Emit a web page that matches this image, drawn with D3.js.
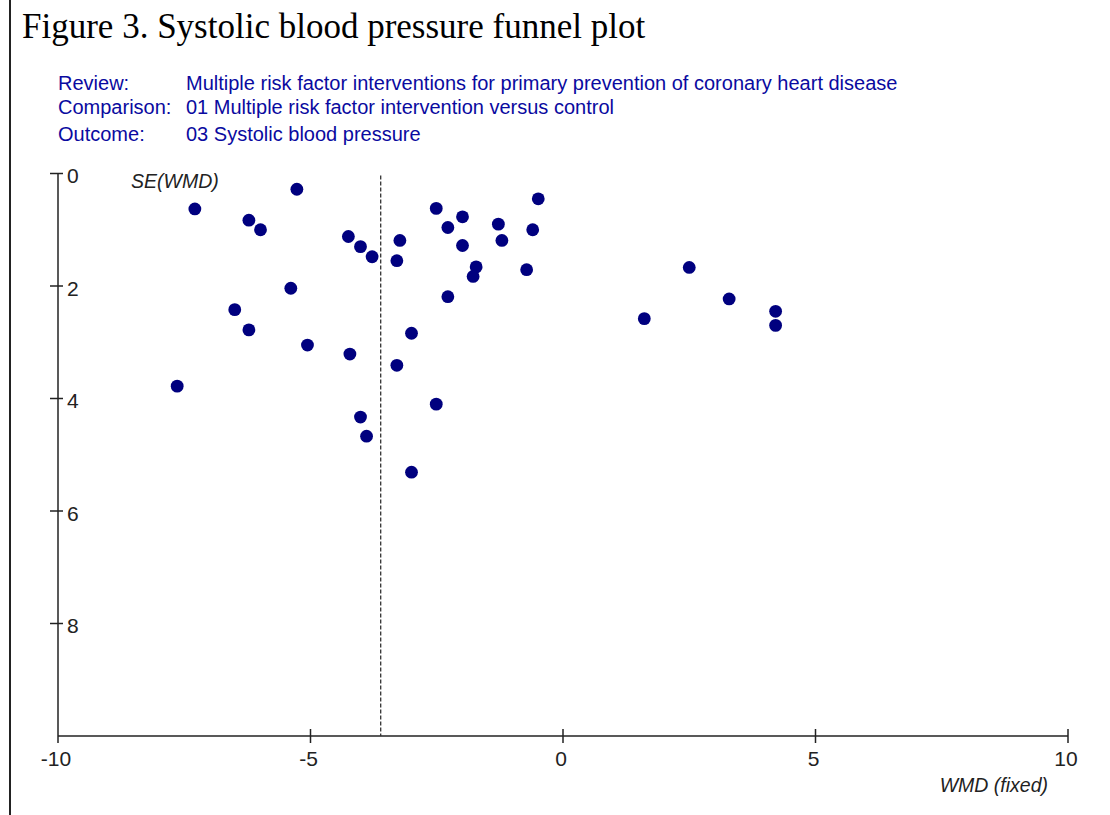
<!DOCTYPE html>
<html>
<head>
<meta charset="utf-8">
<script src="https://cdn.jsdelivr.net/npm/d3@7"></script>
<style>
  html, body { margin: 0; padding: 0; background: #fff; }
  svg { display: block; }
</style>
</head>
<body>
<svg id="chart" width="1110" height="815"></svg>
<script>
// Study effect estimates (weighted mean difference, mmHg) and their standard errors
const wmd = [
  -5.27, -7.29, -6.22, -5.99, -4.25, -4.01, -3.78, -3.23, -3.29, -2.51,
  -1.99, -2.28, -1.99, -1.28, -1.21, -0.49, -0.60, -0.72, -1.72, -1.78,
  -2.28, -5.39, -6.50, -6.22, -5.06, -4.22, -3.00, -3.29, -7.64, -4.01,
  -3.89, -2.51, -3.00, 2.50, 3.29, 1.61, 4.21, 4.21
];
const seWmd = [
  0.28, 0.63, 0.83, 1.00, 1.12, 1.30, 1.48, 1.19, 1.55, 0.62,
  0.77, 0.96, 1.28, 0.90, 1.19, 0.45, 1.00, 1.71, 1.66, 1.83,
  2.19, 2.04, 2.42, 2.78, 3.05, 3.21, 2.84, 3.41, 3.78, 4.33,
  4.67, 4.10, 5.31, 1.67, 2.23, 2.58, 2.45, 2.70
];
// Pooled fixed-effect estimate
const pooledWmd = [-3.61];

const xTicks = [-10, -5, 0, 5, 10];
const yTicks = [0, 2, 4, 6, 8];

const titleText = "Figure 3. Systolic blood pressure funnel plot";
const headerLabels = ["Review:", "Comparison:", "Outcome:"];
const headerValues = [
  "Multiple risk factor interventions for primary prevention of coronary heart disease",
  "01 Multiple risk factor intervention versus control",
  "03 Systolic blood pressure"
];

const svg = d3.select("#chart");
const sans = "'Liberation Sans', Arial, sans-serif";
const blue = "#0a0aa0";
const ink = "#222";

// Page border on the left
svg.append("line")
  .attr("x1", 10).attr("x2", 10).attr("y1", 0).attr("y2", 815)
  .attr("stroke", ink).attr("stroke-width", 2);

// Title
svg.append("text")
  .attr("x", 22).attr("y", 38)
  .attr("font-family", "'Liberation Serif', 'Times New Roman', serif")
  .attr("font-size", 35)
  .attr("fill", "#000")
  .text(titleText);

// Review header block
const headerY = [90, 114, 141];
headerLabels.forEach((lab, i) => {
  svg.append("text")
    .attr("x", 58).attr("y", headerY[i])
    .attr("font-family", sans).attr("font-size", 20)
    .attr("fill", blue).text(lab);
  svg.append("text")
    .attr("x", 186).attr("y", headerY[i])
    .attr("font-family", sans).attr("font-size", 20)
    .attr("fill", blue).text(headerValues[i]);
});

// Scales
const x = d3.scaleLinear().domain([-10, 10]).range([58, 1068]);
const y = d3.scaleLinear().domain([0, 10]).range([173.5, 736]);

const axisG = svg.append("g").attr("stroke", ink).attr("stroke-width", 1.5);

// Vertical axis (SE)
axisG.append("line")
  .attr("x1", x(-10)).attr("x2", x(-10))
  .attr("y1", y(0)).attr("y2", y(10) + 7);
yTicks.forEach(t => {
  axisG.append("line")
    .attr("x1", x(-10) - 8).attr("x2", x(-10) + 5)
    .attr("y1", y(t)).attr("y2", y(t));
});
svg.selectAll(".ylab").data(yTicks).enter().append("text")
  .attr("x", x(-10) + 9).attr("y", d => y(d) + 9.5)
  .attr("font-family", sans).attr("font-size", 21).attr("fill", ink)
  .text(d => d);

// Horizontal axis (WMD)
axisG.append("line")
  .attr("x1", x(-10)).attr("x2", x(10))
  .attr("y1", y(10)).attr("y2", y(10));
xTicks.slice(1).forEach(t => {
  axisG.append("line")
    .attr("x1", x(t)).attr("x2", x(t))
    .attr("y1", y(10) - 7).attr("y2", y(10) + 7);
});
svg.selectAll(".xlab").data(xTicks).enter().append("text")
  .attr("x", d => x(d) - 2).attr("y", 766)
  .attr("text-anchor", "middle")
  .attr("font-family", sans).attr("font-size", 21).attr("fill", ink)
  .text(d => d);

// Axis titles
svg.append("text")
  .attr("x", 131).attr("y", 188)
  .attr("font-family", sans).attr("font-size", 19.5).attr("font-style", "italic")
  .attr("fill", ink).text("SE(WMD)");
svg.append("text")
  .attr("x", 1048).attr("y", 792)
  .attr("text-anchor", "end")
  .attr("font-family", sans).attr("font-size", 19.5).attr("font-style", "italic")
  .attr("fill", ink).text("WMD (fixed)");

// Pooled estimate line
svg.selectAll(".pooled").data(pooledWmd).enter().append("line")
  .attr("x1", d => x(d)).attr("x2", d => x(d))
  .attr("y1", y(0) + 2).attr("y2", y(10))
  .attr("stroke", "#333").attr("stroke-width", 1.3)
  .attr("stroke-dasharray", "4,2");

// Study points
svg.selectAll(".pt").data(wmd.map((v, i) => ({ v, se: seWmd[i] }))).enter()
  .append("circle")
  .attr("cx", d => x(d.v)).attr("cy", d => y(d.se))
  .attr("r", 6.4)
  .attr("fill", "#00007f");
</script>
</body>
</html>
